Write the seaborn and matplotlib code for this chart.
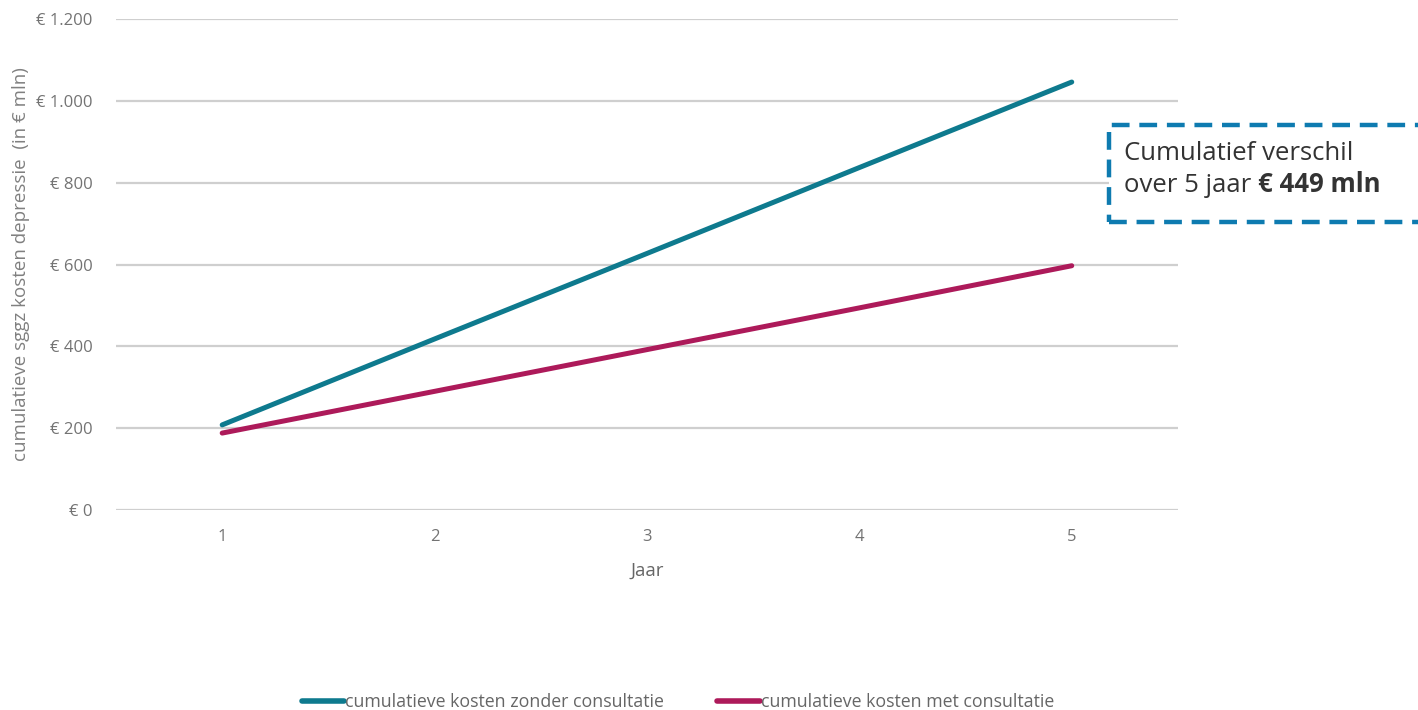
import matplotlib
matplotlib.use("Agg")
import matplotlib.pyplot as plt
from matplotlib.patches import Rectangle
from matplotlib.ticker import FuncFormatter, MultipleLocator
import pandas as pd
import seaborn as sns

# Cumulative specialised mental health care (sggz) costs for depression, € mln
years = [1, 2, 3, 4, 5]
kosten_zonder = [208, 418, 627, 837, 1046]
kosten_met = [188, 290, 392, 494, 597]
series_names = ["cumulatieve kosten zonder consultatie",
                "cumulatieve kosten met consultatie"]
colors = ["#0E7A8E", "#AD1A5A"]

df = pd.DataFrame({
    "Jaar": years * 2,
    "kosten": kosten_zonder + kosten_met,
    "reeks": [series_names[0]] * len(years) + [series_names[1]] * len(years),
})

sns.set_theme(style="white")
plt.rcParams["font.family"] = ["Open Sans", "DejaVu Sans"]

fig = plt.figure(figsize=(14.18, 7.10), dpi=100)
ax = fig.add_axes([0.0818, 0.2817, 0.7489, 0.6915])

sns.lineplot(data=df, x="Jaar", y="kosten", hue="reeks",
             palette=dict(zip(series_names, colors)),
             linewidth=3.6, ax=ax, legend=False, zorder=3,
             solid_capstyle="round")

ax.set_xlim(0.5, 5.5)
ax.set_ylim(0, 1200)
ax.set_xticks(years)
ax.yaxis.set_major_locator(MultipleLocator(200))
ax.yaxis.set_major_formatter(
    FuncFormatter(lambda v, _: "€ " + f"{v:,.0f}".replace(",", ".")))

ax.grid(axis="y", color="#CFCFCF", linewidth=1.6)
ax.set_axisbelow(True)
for s in ax.spines.values():
    s.set_visible(False)
ax.tick_params(axis="both", length=0, labelsize=12, colors="#737373", pad=17)
ax.tick_params(axis="x", pad=14)

ax.set_xlabel("Jaar", fontsize=13.5, color="#666666", labelpad=12)
ax.set_ylabel("cumulatieve sggz kosten depressie  (in € mln)",
              fontsize=13.5, color="#808080")
ax.yaxis.set_label_coords(-0.081, 0.5)

# Legend below the chart
handles = [plt.Line2D([], [], color=c, linewidth=4, solid_capstyle="round")
           for c in colors]
fig.legend(handles, series_names, loc="center", bbox_to_anchor=(0.478, 0.011),
           ncol=2, frameon=False, fontsize=12.8, handlelength=2.4,
           handletextpad=0.05, columnspacing=3.0, labelcolor="#666666")

# Callout box with the cumulative difference after 5 years
verschil = kosten_zonder[-1] - kosten_met[-1]
box = Rectangle((1109 / 1418, 1 - 222 / 710), 320 / 1418, 97 / 710,
                transform=fig.transFigure, fill=True, facecolor="white",
                edgecolor="#0E7BB0", linewidth=3.2, linestyle=(0, (4, 2.2)),
                clip_on=False, zorder=5)
fig.add_artist(box)
t1 = fig.text(1124 / 1418, 1 - 153 / 710, "Cumulatief verschil",
              fontsize=18.5, color="#333333", va="center", zorder=6)
t2 = fig.text(1124 / 1418, 1 - 186 / 710, "over 5 jaar ",
              fontsize=18.5, color="#333333", va="center", zorder=6)
fig.add_artist(plt.Annotation(f"€ {verschil} mln", xy=(1, 0),
                              xycoords=t2, va="bottom", ha="left",
                              fontsize=18.5, fontweight="bold",
                              color="#333333", zorder=6))

fig.savefig("out.png", dpi=100)
